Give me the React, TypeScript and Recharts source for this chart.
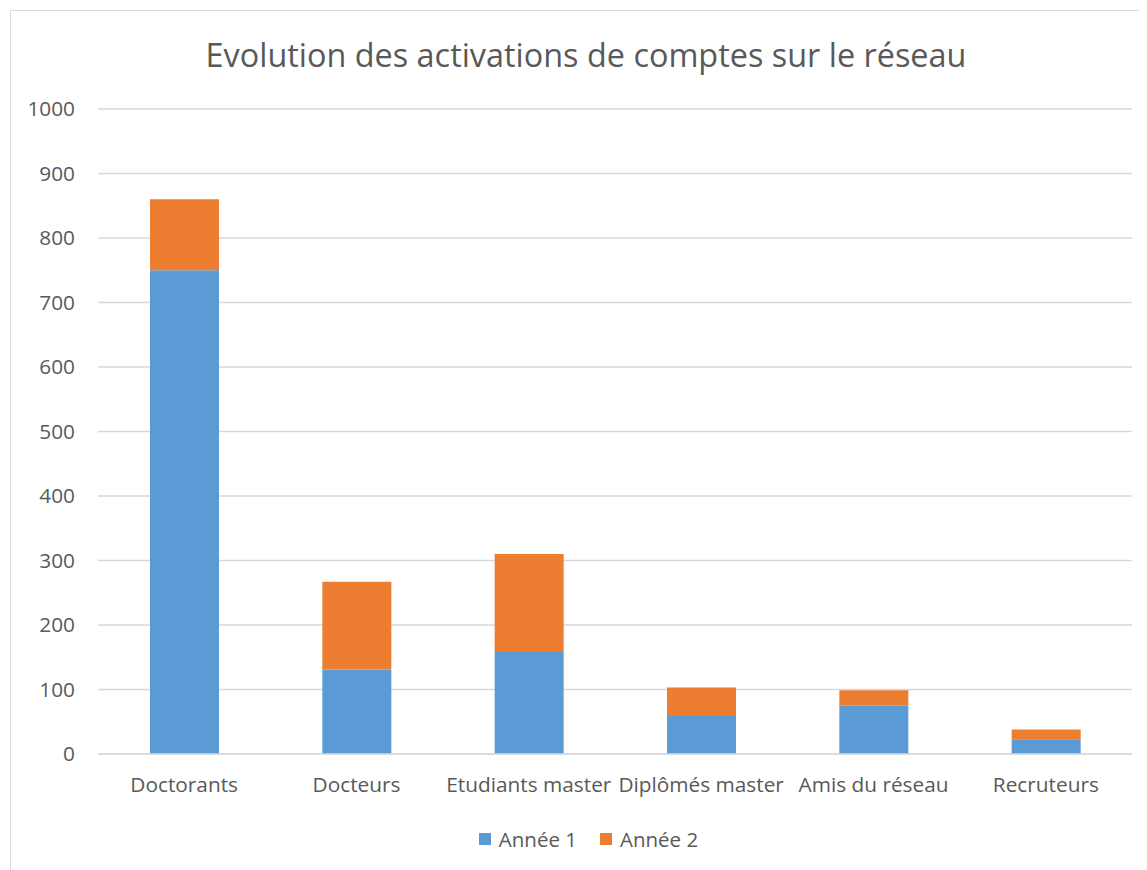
import {
  BarChart,
  Bar,
  XAxis,
  YAxis,
  CartesianGrid,
  Legend,
} from 'recharts';

const categories = [
  'Doctorants',
  'Docteurs',
  'Etudiants master',
  'Diplômés master',
  'Amis du réseau',
  'Recruteurs',
];
const annee1 = [750, 131, 158, 59, 75, 23];
const annee2 = [110, 136, 152, 44, 24, 15];
const yTicks = [0, 100, 200, 300, 400, 500, 600, 700, 800, 900, 1000];

const SERIES = [
  { key: 'a1', name: 'Année 1', color: '#5B9BD5' },
  { key: 'a2', name: 'Année 2', color: '#ED7D31' },
];

const data = categories.map((category, i) => ({
  category,
  a1: annee1[i],
  a2: annee2[i],
}));

const FONT = '"Open Sans", sans-serif';
const TEXT = '#595959';

function LegendContent() {
  return (
    <div style={{ display: 'flex', justifyContent: 'center', gap: 23, fontFamily: FONT, fontSize: 20.5, color: TEXT }}>
      {SERIES.map((s) => (
        <div key={s.key} style={{ display: 'flex', alignItems: 'center' }}>
          <span style={{ width: 12, height: 12, background: s.color, marginRight: 8, display: 'inline-block' }} />
          <span>{s.name}</span>
        </div>
      ))}
    </div>
  );
}

export default function App() {
  return (
    <div
      style={{
        position: 'relative',
        width: 1140,
        height: 864,
        marginLeft: 2,
        marginTop: 2,
        border: '1px solid #d9d9d9',
        boxSizing: 'border-box',
        background: '#fff',
      }}
    >
      <div
        style={{
          position: 'absolute',
          top: 27,
          left: 0,
          width: 1150,
          textAlign: 'center',
          fontFamily: FONT,
          fontSize: 32.4,
          lineHeight: 1,
          color: TEXT,
        }}
      >
        Evolution des activations de comptes sur le réseau
      </div>
      <BarChart
        width={1135}
        height={858}
        data={data}
        margin={{ top: 98, right: 14, bottom: 85, left: 0 }}
        style={{ position: 'absolute', top: 0, left: 0 }}
      >
        <CartesianGrid vertical={false} stroke="#d9d9d9" strokeWidth={1.5} />
        <XAxis
          dataKey="category"
          interval={0}
          tickLine={false}
          axisLine={{ stroke: '#d9d9d9', strokeWidth: 1.5 }}
          tickMargin={17}
          tick={{ fill: TEXT, fontSize: 20.8, fontFamily: FONT }}
        />
        <YAxis
          width={87}
          domain={[0, 1000]}
          ticks={yTicks}
          tickLine={false}
          axisLine={false}
          tickMargin={17}
          tick={{ fill: TEXT, fontSize: 20.8, fontFamily: FONT }}
        />
        <Legend
          layout="horizontal"
          verticalAlign="middle"
          align="center"
          wrapperStyle={{ top: 814, left: 10, width: 1135 }}
          content={<LegendContent />}
        />
        {SERIES.map((s) => (
          <Bar
            key={s.key}
            dataKey={s.key}
            name={s.name}
            stackId="total"
            fill={s.color}
            barSize={69}
            isAnimationActive={false}
          />
        ))}
      </BarChart>
    </div>
  );
}
